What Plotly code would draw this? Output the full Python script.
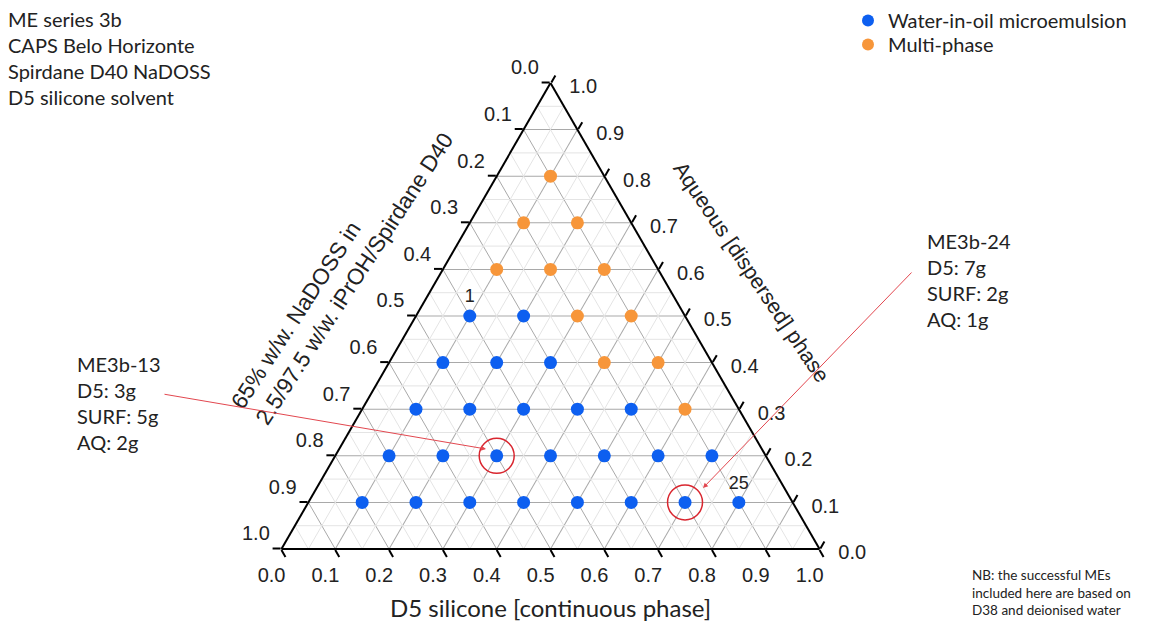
import plotly.graph_objects as go

# ---------------- data (mass fractions, 10 g total) ----------------
# Water-in-oil microemulsions (numbered 1..25)
blue_d5 = [0.1, 0.2,
           0.1, 0.2, 0.3,
           0.1, 0.2, 0.3, 0.4, 0.5,
           0.1, 0.2, 0.3, 0.4, 0.5, 0.6, 0.7,
           0.1, 0.2, 0.3, 0.4, 0.5, 0.6, 0.7, 0.8]
blue_surf = [0.4, 0.3,
             0.5, 0.4, 0.3,
             0.6, 0.5, 0.4, 0.3, 0.2,
             0.7, 0.6, 0.5, 0.4, 0.3, 0.2, 0.1,
             0.8, 0.7, 0.6, 0.5, 0.4, 0.3, 0.2, 0.1]
blue_aq = [0.5, 0.5,
           0.4, 0.4, 0.4,
           0.3, 0.3, 0.3, 0.3, 0.3,
           0.2, 0.2, 0.2, 0.2, 0.2, 0.2, 0.2,
           0.1, 0.1, 0.1, 0.1, 0.1, 0.1, 0.1, 0.1]
blue_labels = ["1"] + [""] * 23 + ["25"]

# Multi-phase samples
orange_d5 = [0.1, 0.1, 0.2, 0.1, 0.2, 0.3, 0.3, 0.4, 0.4, 0.5, 0.6]
orange_surf = [0.1, 0.2, 0.1, 0.3, 0.2, 0.1, 0.2, 0.1, 0.2, 0.1, 0.1]
orange_aq = [0.8, 0.7, 0.7, 0.6, 0.6, 0.6, 0.5, 0.5, 0.4, 0.4, 0.3]

# Highlighted samples ME3b-13 and ME3b-24
hl_d5 = [0.3, 0.7]
hl_surf = [0.5, 0.2]
hl_aq = [0.2, 0.1]

tick_vals = [0.0, 0.1, 0.2, 0.3, 0.4, 0.5, 0.6, 0.7, 0.8, 0.9, 1.0]
tick_labels = ["0.0", "0.1", "0.2", "0.3", "0.4", "0.5", "0.6", "0.7", "0.8", "0.9", "1.0"]
minor_vals = [0.05, 0.15, 0.25, 0.35, 0.45, 0.55, 0.65, 0.75, 0.85, 0.95]

# ---------------- helpers ----------------
W, H = 1151, 621


def px(x):
    return x / W


def py(y):
    return 1 - y / H


# minor grid lines (constant a, b, c)
ma, mb, mc = [], [], []
for v in minor_vals:
    ma += [v, v, None]
    mb += [1 - v, 0, None]
    mc += [0, 1 - v, None]
    ma += [1 - v, 0, None]
    mb += [v, v, None]
    mc += [0, 1 - v, None]
    ma += [1 - v, 0, None]
    mb += [0, 1 - v, None]
    mc += [v, v, None]

CAL = "Lato"
ARI = "Liberation Sans"
BLUE = "#0d5ff0"
ORANGE = "#f7963a"
RED = "#d9262f"
ARROW = "#e2474f"
NB = "\u00a0"

fig = go.Figure()
fig.add_trace(go.Scatterternary(a=ma, b=mb, c=mc, mode="lines",
                                line=dict(color="#e4e4e4", width=1),
                                hoverinfo="skip", showlegend=False))
fig.add_trace(go.Scatterternary(name="Water-in-oil microemulsion",
                                a=blue_aq, b=blue_surf, c=blue_d5, mode="markers",
                                marker=dict(color=BLUE, size=13), legend="legend"))
fig.add_trace(go.Scatterternary(name="Multi-phase",
                                a=orange_aq, b=orange_surf, c=orange_d5, mode="markers",
                                marker=dict(color=ORANGE, size=13), legend="legend2"))
fig.add_trace(go.Scatterternary(a=blue_aq, b=blue_surf, c=blue_d5, mode="markers+text",
                                text=blue_labels, textposition="top center",
                                marker=dict(color="rgba(0,0,0,0)", size=13),
                                textfont=dict(family=ARI, size=18, color="#222"),
                                showlegend=False, hoverinfo="skip"))
fig.add_trace(go.Scatterternary(a=hl_aq, b=hl_surf, c=hl_d5, mode="markers",
                                marker=dict(symbol="circle-open", size=35, color=RED,
                                            line=dict(color=RED, width=1.5)),
                                showlegend=False, hoverinfo="skip"))

rev = tick_labels[::-1]
axis_common = dict(
    title=dict(text=""),
    min=0,
    tickmode="array",
    tickvals=tick_vals,
    ticks="outside", ticklen=8, tickwidth=1.5, tickcolor="black",
    showline=True, linecolor="black", linewidth=2,
    showgrid=True, gridcolor="#a9a9a9", gridwidth=1,
    tickfont=dict(family=ARI, size=20, color="#222"),
)
aaxis = dict(axis_common, ticktext=[t + "<br>" + NB for t in rev])
baxis = dict(axis_common, ticktext=[t + NB * 5 for t in rev])
caxis = dict(axis_common, ticktext=[NB + "<br>" + NB * 2 + t for t in rev])

TXT = "#222"
annotations = [
    dict(text="ME series 3b<br>CAPS Belo Horizonte<br>Spirdane D40 NaDOSS<br>D5 silicone solvent",
         x=px(6), y=py(5), xanchor="left", yanchor="top", align="left",
         font=dict(family=CAL, size=20, color=TXT)),
    dict(text="ME3b-13<br>D5: 3g<br>SURF: 5g<br>AQ: 2g",
         x=px(75), y=py(350), xanchor="left", yanchor="top", align="left",
         font=dict(family=CAL, size=20, color=TXT)),
    dict(text="ME3b-24<br>D5: 7g<br>SURF: 2g<br>AQ: 1g",
         x=px(925), y=py(227), xanchor="left", yanchor="top", align="left",
         font=dict(family=CAL, size=20, color=TXT)),
    dict(text="NB: the successful MEs<br>included here are based on<br>D38 and deionised water",
         x=px(970), y=py(620), xanchor="left", yanchor="bottom", align="left",
         font=dict(family=CAL, size=13.5, color=TXT)),
    dict(text="D5 silicone [continuous phase]",
         x=px(550), y=py(607), xanchor="center", yanchor="middle",
         font=dict(family=CAL, size=24, color=TXT)),
    dict(text="Aqueous [dispersed] phase", textangle=56,
         x=px(751), y=py(272), xanchor="center", yanchor="middle",
         font=dict(family=ARI, size=21.5, color=TXT)),
    dict(text="65% w/w. NaDOSS in<br>2.5/97.5 w/w. iPrOH/Spirdane D40", textangle=-57,
         align="left",
         x=px(342), y=py(271), xanchor="center", yanchor="middle",
         font=dict(family=ARI, size=22.5, color=TXT)),
    dict(text="", x=px(486), y=py(449), ax=163 - 486, ay=394 - 449,
         showarrow=True, arrowhead=2, arrowsize=1, arrowwidth=1, arrowcolor=ARROW, standoff=0),
    dict(text="", x=px(703), y=py(488), ax=913 - 703, ay=271 - 488,
         showarrow=True, arrowhead=2, arrowsize=1, arrowwidth=1, arrowcolor=ARROW, standoff=0),
]
for a in annotations:
    a.setdefault("xref", "paper")
    a.setdefault("yref", "paper")
    a.setdefault("showarrow", False)

legend_style = dict(xanchor="left", yanchor="top",
                    font=dict(family=CAL, size=20, color=TXT),
                    bgcolor="rgba(0,0,0,0)", itemsizing="constant")

fig.update_layout(
    template="none",
    width=W, height=H,
    margin=dict(l=0, r=0, t=0, b=0),
    paper_bgcolor="white",
    ternary=dict(
        domain=dict(x=[px(281), px(820)], y=[py(549), py(83)]),
        sum=1, bgcolor="white",
        aaxis=aaxis, baxis=baxis, caxis=caxis,
    ),
    legend=dict(legend_style, x=px(848), y=py(1)),
    legend2=dict(legend_style, x=px(848), y=py(25)),
    annotations=annotations,
    showlegend=True,
)

fig.write_html("out.html", config={"displayModeBar": False},
               post_script="document.body.style.margin='0';")
